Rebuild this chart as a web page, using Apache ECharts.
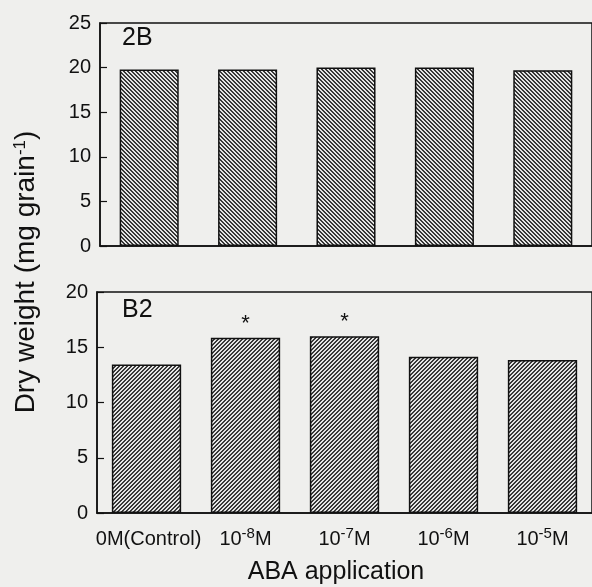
<!DOCTYPE html>
<html>
<head>
<meta charset="utf-8">
<script src="https://cdn.jsdelivr.net/npm/echarts@6/dist/echarts.min.js"></script>
<style>
  html, body { margin: 0; padding: 0; background: #efefed; }
  #chart { width: 592px; height: 587px; }
</style>
</head>
<body>
<div id="chart"></div>
<script>
// ABA concentrations applied (category axis)
const categories = ['0M(Control)', '10-8M', '10-7M', '10-6M', '10-5M'];
// Grain dry weight, mg per grain
const values2B = [19.8, 19.8, 20.0, 20.0, 19.7];
const valuesB2 = [13.45, 15.85, 16.0, 14.15, 13.85];
// Significance marks above the B2 bars
const marksB2 = ['', '*', '*', '', ''];
// Y tick settings per panel
const ticks2B = { min: 0, max: 25, interval: 5 };
const ticksB2 = { min: 0, max: 20, interval: 5 };

const FONT = 'Liberation Sans, Arial, sans-serif';
const INK = '#111';

// Diagonal hatch tile; dir 1 = "\" lines, dir -1 = "/" lines
function hatch(dir) {
  const n = 4;
  const c = document.createElement('canvas');
  c.width = n; c.height = n;
  const ctx = c.getContext('2d');
  const img = ctx.createImageData(n, n);
  for (let y = 0; y < n; y++) {
    for (let x = 0; x < n; x++) {
      const k = dir > 0 ? ((x - y) % n + n) % n : (x + y) % n;
      const v = k < 2 ? 55 : 228;
      const i = (y * n + x) * 4;
      img.data[i] = v; img.data[i + 1] = v; img.data[i + 2] = v; img.data[i + 3] = 255;
    }
  }
  ctx.putImageData(img, 0, 0);
  return { image: c, repeat: 'repeat' };
}

// "10-8M" -> 10 with superscript exponent; plain labels get a blank
// superscript slot so every label sits on the same baseline
function fmtCat(s) {
  const m = /^10(-\d+)M$/.exec(s);
  return m ? '10{sup|' + m[1] + '}M' : '{sup| }' + s;
}

const supStyle = { fontSize: 15, fontFamily: FONT, color: INK, padding: [0, 0, 11, 0] };

const yAxisBase = (t) => ({
  type: 'value', min: t.min, max: t.max, interval: t.interval,
  axisLine: { show: true, lineStyle: { color: INK, width: 1.5 } },
  axisTick: { show: true, inside: true, length: 7, lineStyle: { color: INK, width: 1.2 } },
  splitLine: { show: false },
  axisLabel: { color: INK, fontSize: 20, fontFamily: FONT, margin: 9 }
});

const chart = echarts.init(document.getElementById('chart'), null, { renderer: 'canvas' });
chart.setOption({
  backgroundColor: '#efefed',
  animation: false,
  grid: [
    { left: 100, right: -4, top: 23, height: 223, show: true, borderColor: INK, borderWidth: 1.5, backgroundColor: 'transparent' },
    { left: 97, right: -2, top: 292, height: 221, show: true, borderColor: INK, borderWidth: 1.5, backgroundColor: 'transparent' }
  ],
  xAxis: [
    { type: 'category', gridIndex: 0, data: categories,
      axisLine: { lineStyle: { color: INK, width: 1.5 } }, axisTick: { show: false }, axisLabel: { show: false } },
    { type: 'category', gridIndex: 1, data: categories,
      axisLine: { lineStyle: { color: INK, width: 1.5 } }, axisTick: { show: false },
      axisLabel: { color: INK, fontSize: 20, fontFamily: FONT, margin: 13, interval: 0, formatter: fmtCat,
        rich: { sup: supStyle } } }
  ],
  yAxis: [
    Object.assign({ gridIndex: 0 }, yAxisBase(ticks2B)),
    Object.assign({ gridIndex: 1 }, yAxisBase(ticksB2))
  ],
  series: [
    { type: 'bar', xAxisIndex: 0, yAxisIndex: 0, data: values2B, barWidth: '60%',
      itemStyle: { color: hatch(1), borderColor: INK, borderWidth: 1.5 } },
    { type: 'bar', xAxisIndex: 1, yAxisIndex: 1, data: valuesB2, barWidth: '70%',
      itemStyle: { color: hatch(-1), borderColor: INK, borderWidth: 1.5 },
      label: { show: true, position: 'top', distance: 3, color: INK, fontSize: 22, fontFamily: FONT,
        formatter: (p) => marksB2[p.dataIndex] } }
  ],
  graphic: [
    { type: 'text', left: 122, top: 26, style: { text: '2B', fontSize: 25, fontFamily: FONT, fill: INK } },
    { type: 'text', left: 122, top: 298, style: { text: 'B2', fontSize: 25, fontFamily: FONT, fill: INK } },
    { type: 'text', x: 26, y: 272, rotation: Math.PI / 2,
      style: { text: 'Dry weight (mg grain{sup|-1})', fontSize: 28, fontFamily: FONT, fill: INK,
        align: 'center', verticalAlign: 'middle',
        rich: { sup: { fontSize: 17, fontFamily: FONT, fill: INK, padding: [0, 0, 12, 0] } } } },
    { type: 'text', x: 336, y: 572,
      style: { text: 'ABA application', fontSize: 25, fontFamily: FONT, fill: INK, align: 'center', verticalAlign: 'middle' } }
  ]
});
</script>
</body>
</html>
